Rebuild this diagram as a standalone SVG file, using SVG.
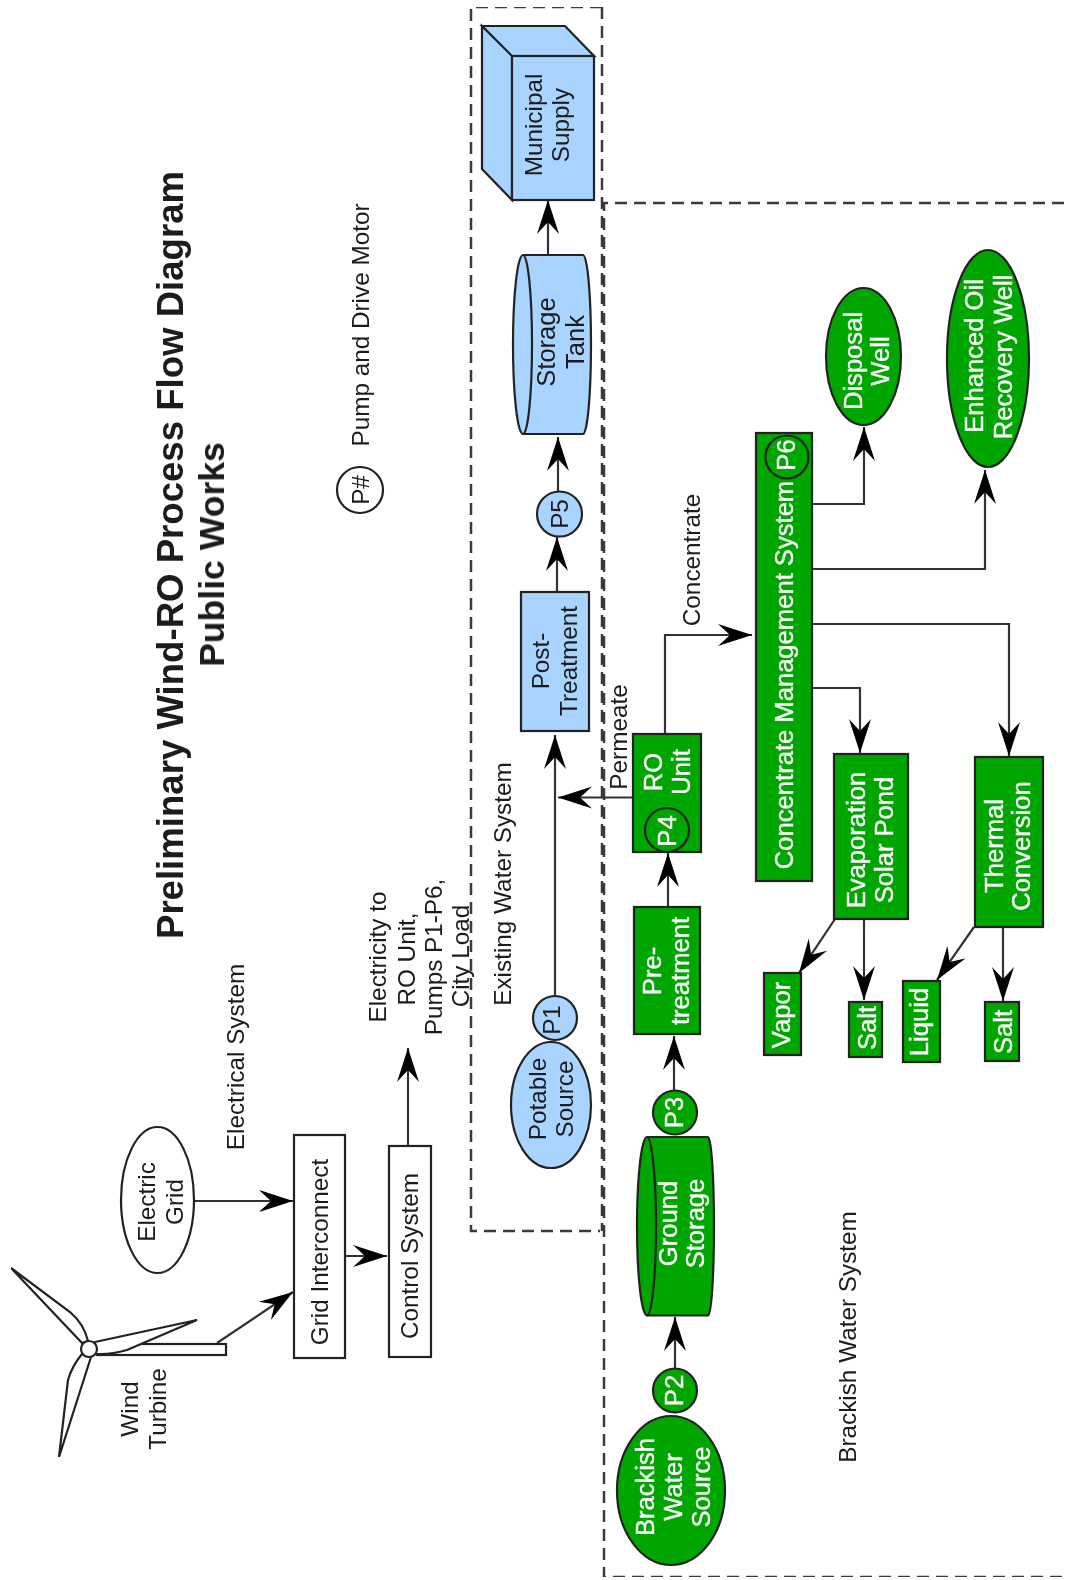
<svg xmlns="http://www.w3.org/2000/svg" width="1065" height="1580" viewBox="0 0 1065 1580">
<style>
text{font-family:"Liberation Sans",Arial,sans-serif;font-size:24.300px;text-anchor:middle;fill:#1a1a1a}
.w text{fill:#fff;font-size:25.600px;stroke:#fff;stroke-width:.35}
.s{fill:#fff;stroke:#222;stroke-width:2.2}
.b{fill:#a8d4ff;stroke:#222;stroke-width:2.2}
.g{fill:#00a600;stroke:#222;stroke-width:2.2}
.c{fill:none;stroke:#333;stroke-width:2.2;marker-end:url(#a)}
.d{fill:none;stroke:#3a3a3a;stroke-width:2.500;stroke-dasharray:12 7}
.t{font-weight:bold;font-size:36.600px}
.t2{font-weight:bold;font-size:35.600px}
</style>
<defs>
<marker id="a" markerUnits="userSpaceOnUse" markerWidth="36" markerHeight="24" refX="34" refY="11" orient="auto"><path d="M34,11L0,0L12,11L0,22Z" fill="#000"/></marker>
<filter id="soft" x="0" y="0" width="100%" height="100%"><feGaussianBlur stdDeviation=".45"/></filter>
</defs>
<rect width="1065" height="1580" fill="#fff"/>
<g filter="url(#soft)">
<g id="titles">
<text class="t" transform="translate(183,555) rotate(-90)">Preliminary Wind-RO Process Flow Diagram</text>
<text class="t2" transform="translate(224,554.500) rotate(-90)">Public Works</text>
</g>
<g id="boundaries">
<path class="d" d="M602,7H471V1231H600"/><path class="d" d="M602,7V1231"/>
<path class="d" d="M1064,203H604V1577H1064"/>
<text transform="translate(511,884) rotate(-90)">Existing Water System</text>
<text transform="translate(856,1337) rotate(-90)">Brackish Water System</text>
<text transform="translate(244,1057) rotate(-90)">Electrical System</text>
</g>
<g id="connectors">
<path class="c" d="M194,1201H293"/>
<path class="c" d="M345,1256H387"/>
<path class="c" d="M217,1343L293,1292"/>
<path class="c" d="M408,1146V1048"/>
<path class="c" d="M548,255V200"/>
<path class="c" d="M558,492V437"/>
<path class="c" d="M557,592V537"/>
<path class="c" d="M555,997V735"/>
<path class="c" d="M633,797.500H558"/>
<path class="c" d="M665,734V635H752"/>
<path class="c" d="M668,907V853"/>
<path class="c" d="M674,1091V1036"/>
<path class="c" d="M675,1369V1317"/>
<path class="c" d="M812,504H864V427"/>
<path class="c" d="M812,569H985V470"/>
<path class="c" d="M812,624H1009V756"/>
<path class="c" d="M812,688H860V753"/>
<path class="c" d="M835,919L799,973"/>
<path class="c" d="M864,919V1000"/>
<path class="c" d="M974,927L937,980"/>
<path class="c" d="M1003,927V1001"/>
</g>
<g id="wind-turbine">
<rect class="s" x="97" y="1344" width="129" height="11"/>
<path class="s" d="M82,1343L11,1268L70,1312Q84,1324 88,1341Z"/>
<path class="s" d="M95,1342L197,1320L127,1350Q110,1355 96,1354Z"/>
<path class="s" d="M91,1357L59,1457L68,1380Q72,1366 82,1354Z"/>
<circle class="s" cx="89" cy="1349" r="8"/>
<text transform="translate(138,1409) rotate(-90)">Wind</text>
<text transform="translate(165.500,1409) rotate(-90)">Turbine</text>
</g>
<g id="electric-grid">
<ellipse class="s" cx="157.500" cy="1200" rx="36.500" ry="73"/>
<text transform="translate(155,1202) rotate(-90)">Electric</text>
<text transform="translate(182.500,1202) rotate(-90)">Grid</text>
</g>
<g id="grid-interconnect">
<rect class="s" x="294" y="1135" width="51" height="223"/>
<text transform="translate(328,1252) rotate(-90)">Grid Interconnect</text>
</g>
<g id="control-system">
<rect class="s" x="389" y="1146" width="42" height="211"/>
<text transform="translate(418,1256) rotate(-90)">Control System</text>
</g>
<g id="electricity-label">
<text transform="translate(386,957) rotate(-90)">Electricity to</text>
<text transform="translate(415,959) rotate(-90)">RO Unit,</text>
<text transform="translate(442,957) rotate(-90)">Pumps P1-P6,</text>
<text transform="translate(469,956) rotate(-90)">City Load</text>
</g>
<g id="legend">
<circle class="s" cx="360" cy="490" r="23"/>
<text transform="translate(369,490) rotate(-90)">P#</text>
<text transform="translate(369,325) rotate(-90)">Pump and Drive Motor</text>
</g>
<g id="municipal-supply">
<path class="b" d="M482,26H565L594,56H512ZM482,26V169L512,200V56Z"/>
<rect class="b" x="512" y="56" width="82" height="144"/>
<text transform="translate(541.500,125) rotate(-90)">Municipal</text>
<text transform="translate(569,125) rotate(-90)">Supply</text>
</g>
<g id="storage-tank">
<path class="b" d="M523,255H583A8,89.500 0 0 1 583,434H523A10,89.500 0 0 1 523,255Z"/>
<path class="b" d="M523,255A9,89.500 0 0 1 523,434"/>
<text transform="translate(555,342) rotate(-90)" style="font-size:25.500px">Storage</text>
<text transform="translate(584,342) rotate(-90)" style="font-size:25.500px">Tank</text>
</g>
<g id="p5"><circle class="b" cx="559.500" cy="514" r="22.500"/><text transform="translate(568,514) rotate(-90)">P5</text></g>
<g id="post-treatment">
<rect class="b" x="521" y="592" width="68" height="139"/>
<text transform="translate(549,661) rotate(-90)">Post-</text>
<text transform="translate(577,661) rotate(-90)">Treatment</text>
</g>
<g id="p1-source">
<ellipse class="b" cx="551" cy="1105" rx="40" ry="63"/>
<text transform="translate(546,1099) rotate(-90)">Potable</text>
<text transform="translate(573,1099) rotate(-90)">Source</text>
</g>
<g id="p1"><circle class="b" cx="555" cy="1018" r="22"/><text transform="translate(560,1020) rotate(-90)">P1</text></g>
<g id="ro-unit" class="w">
<rect class="g" x="633" y="734" width="68" height="118"/>
<circle class="g" cx="667" cy="830" r="22"/>
<text transform="translate(662,772) rotate(-90)">RO</text>
<text transform="translate(690,772) rotate(-90)">Unit</text>
<text transform="translate(676,831) rotate(-90)">P4</text>
</g>
<g id="permeate-label"><text transform="translate(627,737) rotate(-90)">Permeate</text></g>
<g id="concentrate-label"><text transform="translate(700,560) rotate(-90)">Concentrate</text></g>
<g id="pre-treatment" class="w">
<rect class="g" x="634" y="907" width="66" height="127"/>
<text transform="translate(661,971) rotate(-90)">Pre-</text>
<text transform="translate(689,971) rotate(-90)">treatment</text>
</g>
<g id="p3" class="w"><circle class="g" cx="675" cy="1112.500" r="22"/><text transform="translate(683,1112.500) rotate(-90)">P3</text></g>
<g id="ground-storage" class="w">
<path class="g" d="M647,1137H708A6,89.250 0 0 1 708,1315.500H647A10,89.250 0 0 1 647,1137Z"/>
<path class="g" d="M647,1137A9,89.250 0 0 1 647,1315.500"/>
<text transform="translate(677,1223.500) rotate(-90)">Ground</text>
<text transform="translate(704,1223.500) rotate(-90)">Storage</text>
</g>
<g id="p2" class="w"><circle class="g" cx="675" cy="1390.500" r="22"/><text transform="translate(683,1390.500) rotate(-90)">P2</text></g>
<g id="brackish-source" class="w">
<ellipse class="g" cx="671" cy="1490.500" rx="54" ry="74.500"/>
<text transform="translate(654,1487) rotate(-90)">Brackish</text>
<text transform="translate(682,1487) rotate(-90)">Water</text>
<text transform="translate(710,1487) rotate(-90)">Source</text>
</g>
<g id="concentrate-management" class="w">
<rect class="g" x="756" y="433" width="56" height="448"/>
<circle class="g" cx="787" cy="457" r="21.500"/>
<text transform="translate(793,675) rotate(-90)">Concentrate Management System</text>
<text transform="translate(795,455) rotate(-90)">P6</text>
</g>
<g id="disposal-well" class="w">
<ellipse class="g" cx="863.500" cy="356.500" rx="37.500" ry="68.500"/>
<text transform="translate(862,361) rotate(-90)">Disposal</text>
<text transform="translate(889,361) rotate(-90)">Well</text>
</g>
<g id="enhanced-oil" class="w">
<ellipse class="g" cx="988" cy="358.500" rx="41" ry="108.500"/>
<text transform="translate(983,356) rotate(-90)">Enhanced Oil</text>
<text transform="translate(1012,357) rotate(-90)">Recovery Well</text>
</g>
<g id="evaporation" class="w">
<rect class="g" x="834" y="754" width="74" height="165"/>
<text transform="translate(865,840) rotate(-90)">Evaporation</text>
<text transform="translate(893,840) rotate(-90)">Solar Pond</text>
</g>
<g id="thermal" class="w">
<rect class="g" x="975" y="757" width="68" height="170"/>
<text transform="translate(1003,846) rotate(-90)">Thermal</text>
<text transform="translate(1030,846) rotate(-90)">Conversion</text>
</g>
<g id="vapor" class="w"><rect class="g" x="764" y="973" width="37" height="82"/><text transform="translate(790,1015) rotate(-90)">Vapor</text></g>
<g id="salt-1" class="w"><rect class="g" x="849" y="1002" width="33" height="55"/><text transform="translate(876,1028) rotate(-90)">Salt</text></g>
<g id="liquid" class="w"><rect class="g" x="903" y="981" width="37" height="81"/><text transform="translate(928,1022) rotate(-90)">Liquid</text></g>
<g id="salt-2" class="w"><rect class="g" x="985" y="1002" width="34" height="59"/><text transform="translate(1012,1032) rotate(-90)">Salt</text></g>
</g>
</svg>
